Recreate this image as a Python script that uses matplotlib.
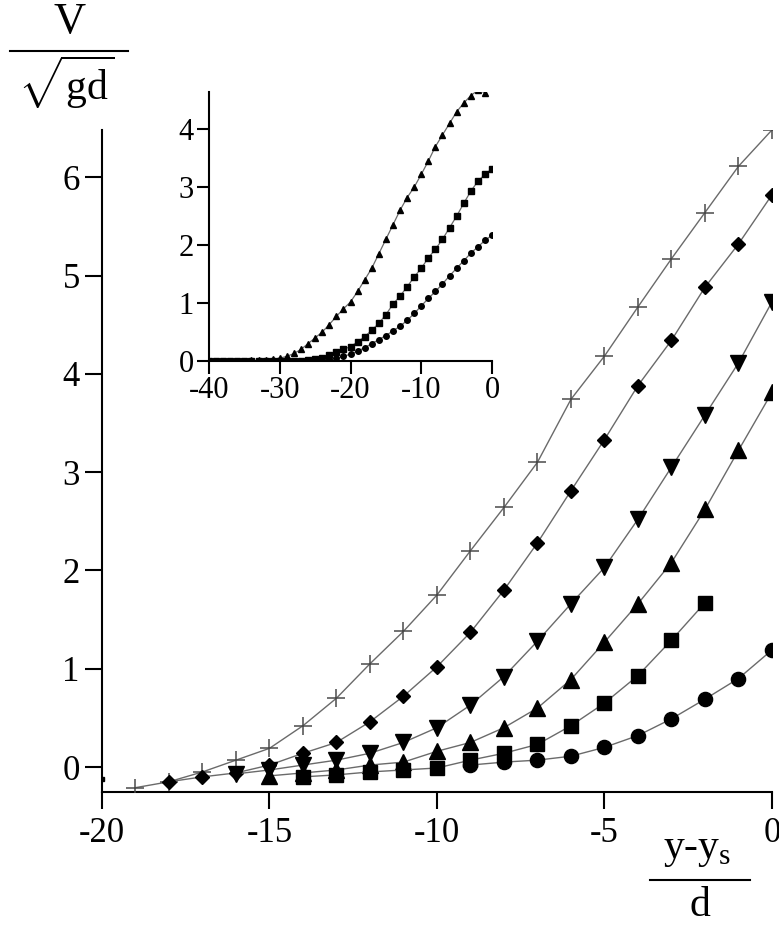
import numpy as np
import matplotlib
matplotlib.use("Agg")
import matplotlib.pyplot as plt
from matplotlib.lines import Line2D

plt.rcParams["font.family"] = ["Liberation Serif", "DejaVu Serif"]
plt.rcParams["mathtext.fontset"] = "custom"
plt.rcParams["mathtext.rm"] = "Liberation Serif"
plt.rcParams["axes.unicode_minus"] = False

# ---- main plot data (V / sqrt(gd) vs (y - ys)/d) ----
x_cross = np.arange(-19, 1)
v_cross = [-0.21, -0.15, -0.05, 0.07, 0.19, 0.42, 0.70, 1.05, 1.38, 1.75,
           2.20, 2.64, 3.10, 3.74, 4.18, 4.68, 5.17, 5.64, 6.11, 6.48]

x_diam = np.arange(-18, 1)
v_diam = [-0.15, -0.10, -0.06, 0.02, 0.14, 0.25, 0.46, 0.72, 1.02, 1.37,
          1.80, 2.28, 2.81, 3.33, 3.88, 4.34, 4.88, 5.32, 5.82]

x_tdown = np.arange(-16, 1)
v_tdown = [-0.07, -0.03, 0.02, 0.07, 0.14, 0.25, 0.40, 0.63, 0.92, 1.28,
           1.66, 2.03, 2.52, 3.05, 3.58, 4.11, 4.73]

x_tup = np.arange(-15, 1)
v_tup = [-0.09, -0.06, -0.03, 0.02, 0.05, 0.16, 0.25, 0.40, 0.60, 0.89,
         1.27, 1.66, 2.08, 2.62, 3.22, 3.81]

x_sq = np.arange(-14, -1)
v_sq = [-0.10, -0.08, -0.05, -0.03, -0.01, 0.07, 0.14, 0.23, 0.42, 0.65,
        0.93, 1.29, 1.67]

x_circ = np.arange(-9, 1)
v_circ = [0.02, 0.05, 0.07, 0.11, 0.20, 0.32, 0.49, 0.69, 0.90, 1.19]

x_stray = [-20]
v_stray = [-0.12]

# ---- inset data ----
xi_tri = np.arange(-40, 0)
vi_tri = [0.0, 0.0, 0.0, 0.0, 0.0, 0.0, 0.01, 0.01, 0.02, 0.03,
          0.05, 0.08, 0.13, 0.20, 0.30, 0.40, 0.50, 0.63, 0.77, 0.90,
          1.02, 1.20, 1.40, 1.60, 1.85, 2.10, 2.35, 2.60, 2.82, 3.00,
          3.22, 3.45, 3.70, 3.90, 4.10, 4.30, 4.45, 4.58, 4.67, 4.63]

xi_sq = np.arange(-40, 1)
vi_sq = [0.0, 0.0, 0.0, 0.0, 0.0, 0.0, 0.0, 0.0, 0.0, 0.0,
         0.0, 0.0, 0.0, 0.0, 0.02, 0.04, 0.06, 0.10, 0.15, 0.20,
         0.25, 0.33, 0.42, 0.53, 0.65, 0.80, 0.98, 1.12, 1.28, 1.45,
         1.60, 1.78, 1.93, 2.10, 2.30, 2.50, 2.72, 2.93, 3.10, 3.22, 3.32]

xi_circ = np.arange(-40, 1)
vi_circ = [0.0, 0.0, 0.0, 0.0, 0.0, 0.0, 0.0, 0.0, 0.0, 0.0,
           0.0, 0.0, 0.0, 0.0, 0.0, 0.0, 0.01, 0.03, 0.05, 0.08,
           0.12, 0.17, 0.23, 0.30, 0.37, 0.44, 0.52, 0.60, 0.70, 0.82,
           0.95, 1.08, 1.20, 1.33, 1.47, 1.60, 1.73, 1.86, 1.97, 2.08, 2.17]

line_col = "#6a6a6a"

fig = plt.figure(figsize=(7.79, 9.30), dpi=100)
ax = fig.add_axes([0.1309, 0.1484, 0.860, 0.7118])

ax.plot(x_cross, v_cross, color=line_col, lw=1.0, marker="+", ms=13,
        mew=1.1, mec="#4a4a4a", zorder=3)
ax.plot(x_diam, v_diam, color=line_col, lw=1.0, marker="D", ms=7.4,
        mfc="black", mec="black", zorder=3)
ax.plot(x_tdown, v_tdown, color=line_col, lw=1.0, marker="v", ms=11.5,
        mfc="black", mec="black", zorder=3)
ax.plot(x_tup, v_tup, color=line_col, lw=1.0, marker="^", ms=11.5,
        mfc="black", mec="black", zorder=3)
ax.plot(x_sq, v_sq, color=line_col, lw=1.0, marker="s", ms=9.8,
        mfc="black", mec="black", zorder=3)
ax.plot(x_circ, v_circ, color=line_col, lw=1.0, marker="o", ms=10.2,
        mfc="black", mec="black", zorder=3)
ax.plot(x_stray, v_stray, ls="none", marker="s", ms=3, color="black",
        zorder=3)

ax.set_xlim(-20, 0)
ax.set_ylim(-0.254, 6.48)
ax.set_xticks([-20, -15, -10, -5, 0])
ax.set_yticks([0, 1, 2, 3, 4, 5, 6])
for s in ["top", "right"]:
    ax.spines[s].set_visible(False)
for s in ["left", "bottom"]:
    ax.spines[s].set_linewidth(1.5)
ax.tick_params(axis="both", direction="out", length=12, width=1.5,
               labelsize=25, pad=4, colors="black")
ax.tick_params(axis="x", pad=6)

# ---- inset ----
axi = fig.add_axes([0.2683, 0.6118, 0.3633, 0.2892])
axi.plot(xi_tri, vi_tri, color=line_col, lw=0.9, marker="^", ms=4.8,
         mfc="black", mec="black")
axi.plot(xi_sq, vi_sq, color=line_col, lw=0.9, marker="s", ms=4,
         mfc="black", mec="black")
axi.plot(xi_circ, vi_circ, color=line_col, lw=0.9, marker="o", ms=4,
         mfc="black", mec="black")
axi.set_xlim(-40, 0)
axi.set_ylim(0, 4.64)
axi.set_xticks([-40, -30, -20, -10, 0])
axi.set_yticks([0, 1, 2, 3, 4])
axi.patch.set_alpha(0)
for s in ["top", "right"]:
    axi.spines[s].set_visible(False)
for s in ["left", "bottom"]:
    axi.spines[s].set_linewidth(1.5)
axi.tick_params(axis="both", direction="out", length=9, width=1.5,
                labelsize=22, pad=2)

# ---- axis labels as fractions ----
fig.text(70 / 779, 1 - 22 / 930, "V", fontsize=32, ha="center", va="center")
fig.add_artist(Line2D([10 / 779, 128 / 779], [1 - 51 / 930, 1 - 51 / 930],
                      color="black", lw=1.5))
fig.text(66 / 779, 1 - 82 / 930, r"$\sqrt{\mathrm{gd}}$", fontsize=30,
         ha="center", va="center")

fig.text(697 / 779, 1 - 850 / 930, r"y-y$_{\mathrm{s}}$", fontsize=30,
         ha="center", va="center")
fig.add_artist(Line2D([650 / 779, 750 / 779], [1 - 880 / 930, 1 - 880 / 930],
                      color="black", lw=1.5))
fig.text(700 / 779, 1 - 906 / 930, "d", fontsize=30, ha="center", va="center")

fig.savefig("out.png", dpi=100)
